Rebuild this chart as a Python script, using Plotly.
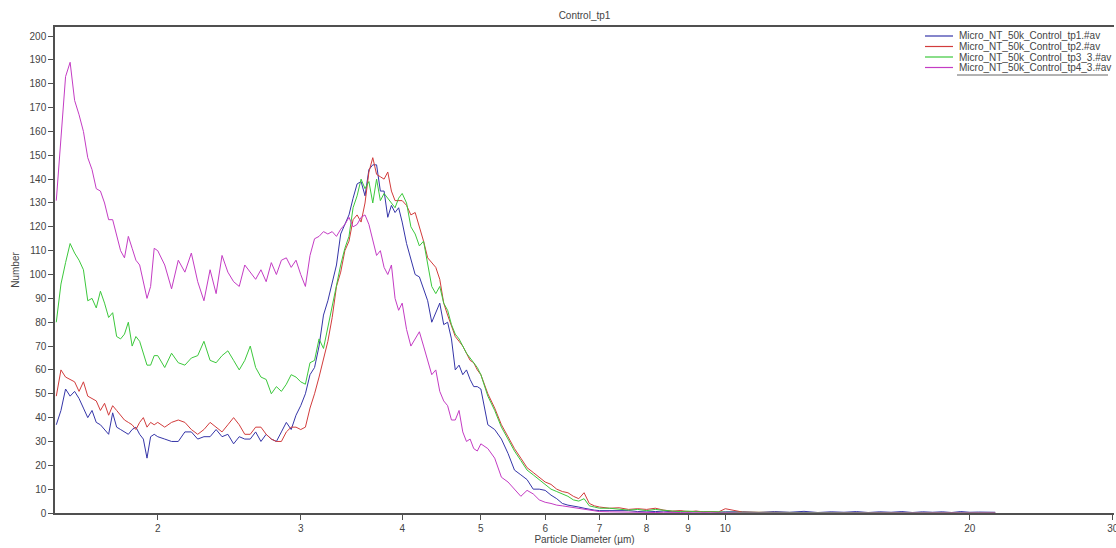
import plotly.graph_objects as go

# Particle diameter bins (µm)
diameter_um = [
    1.50, 1.52, 1.54, 1.56, 1.58, 1.60, 1.62, 1.64, 1.66, 1.68, 1.70, 1.72, 1.74,
    1.76, 1.78, 1.80, 1.82, 1.84, 1.86, 1.88, 1.90, 1.92, 1.94, 1.96, 1.98, 2.00,
    2.04, 2.08, 2.12, 2.16, 2.20, 2.24, 2.28, 2.32, 2.36, 2.40, 2.44, 2.48, 2.52,
    2.56, 2.60, 2.64, 2.68, 2.72, 2.76, 2.80, 2.84, 2.88, 2.92, 2.96, 3.00,
    3.04, 3.08, 3.12, 3.16, 3.20, 3.24, 3.28, 3.32, 3.36, 3.40, 3.44, 3.48, 3.52,
    3.56, 3.60, 3.64, 3.68, 3.72, 3.76, 3.80, 3.84, 3.88, 3.92, 3.96, 4.00,
    4.05, 4.10, 4.15, 4.20, 4.25, 4.30, 4.35, 4.40, 4.45, 4.50, 4.55, 4.60, 4.65,
    4.70, 4.75, 4.80, 4.85, 4.90, 4.95, 5.00,
    5.1, 5.2, 5.3, 5.4, 5.5, 5.6, 5.7, 5.8, 5.9, 6.0,
    6.1, 6.2, 6.3, 6.4, 6.5, 6.6, 6.7, 6.8, 6.9, 7.0, 7.2, 7.4, 7.6, 7.8, 8.0,
    8.2, 8.4, 8.6, 8.8, 9.0, 9.2, 9.4, 9.6, 9.8, 10.0,
    10.5, 11.0, 11.5, 12.0, 12.5, 13.0, 13.5, 14.0, 14.5, 15.0, 15.5, 16.0,
    16.5, 17.0, 17.5, 18.0, 18.5, 19.0, 19.5, 20.0, 20.5, 21.0, 21.5,
]

tp1_counts = [
    37, 43, 52, 49, 51, 48, 44, 40, 43, 38, 37, 35, 33, 42, 36, 35, 34, 33, 35, 36, 33, 31, 23, 32, 33, 32,
    31, 30, 30, 34, 34, 31, 32, 32, 35, 32, 33, 29, 32, 31, 31, 34, 30, 33, 31, 30, 34, 38, 35, 41, 45,
    50, 58, 61, 70, 83, 89, 96, 104, 117, 121, 125, 132, 138, 139, 133, 144, 146, 146, 135, 135, 124, 129, 126, 128, 122,
    113, 106, 100, 99, 94, 89, 80, 84, 88, 79, 80, 73, 60, 62, 58, 60, 56, 53, 53, 52,
    37, 35, 31, 25, 18, 16, 14, 10, 10, 9.5,
    7.5, 6, 4, 3.3, 3, 2.5, 2, 1.5, 1.2, 1, 1, 0.8, 1, 0.6, 0.8,
    0.6, 0.8, 0.5, 0.8, 0.4, 0.7, 0.5, 0.6, 0.3, 0.5,
    0.5, 0.2, 0.6, 0.3, 0.7, 0.2, 0.5, 0.3, 0.6, 0.2, 0.5, 0.3, 0.6, 0.2, 0.5, 0.3, 0.5, 0.2, 0.6, 0.3, 0.4, 0.5, 0.3,
]

tp2_counts = [
    49, 60, 57, 56, 55, 51, 55, 49, 48, 47, 43, 46, 41, 45, 43, 41, 39, 38, 37, 35, 38, 40, 36, 38, 37, 38,
    36, 38, 39, 38, 35, 33, 35, 38, 36, 34, 37, 40, 37, 33, 33, 36, 36, 33, 31, 30, 30, 34, 36, 36, 35,
    36, 44, 50, 57, 65, 72, 82, 95, 101, 110, 114, 123, 125, 122, 130, 143, 149, 142, 141, 140, 143, 135, 131, 131, 131,
    129, 125, 126, 120, 114, 107, 105, 103, 98, 88, 83, 78, 74, 72, 70, 67, 64, 63, 60, 58,
    50, 44, 37, 32, 27, 23, 19, 17, 15, 13,
    12, 10, 9, 8.5, 7, 6, 8.5, 4, 3, 2.5, 2, 2.2, 1.5, 1.8, 1.5,
    2, 1.2, 0.8, 1, 0.6, 0.8, 0.5, 0.6, 0.4, 1.8,
    0.4, 0.3, 0.2, 0.3, 0.1, 0.2, 0.1, 0.2, 0, 0.1, 0.2, 0, 0.1, 0, 0.1, 0, 0, 0.1, 0, 0, 0.1, 0, 0,
]

tp3_counts = [
    80, 96, 105, 113, 109, 106, 102, 89, 90, 86, 93, 88, 82, 84, 74, 73, 75, 80, 70, 74, 72, 67, 62, 62, 66, 66,
    61, 67, 63, 62, 65, 66, 72, 64, 63, 66, 68, 64, 60, 64, 70, 61, 57, 56, 50, 53, 51, 54, 58, 57, 55,
    54, 63, 64, 73, 69, 78, 86, 95, 104, 111, 116, 128, 133, 140, 136, 139, 130, 140, 131, 134, 132, 130, 128, 132, 134,
    130, 120, 117, 112, 114, 104, 95, 92, 95, 88, 85, 79, 75, 73, 70, 67, 65, 63, 61, 58,
    49, 43, 36, 31, 26, 22, 18, 16, 14, 12,
    10, 9, 8, 7, 5.5, 5, 6, 3, 2.5, 2, 2, 1.5, 1.2, 1.5, 1,
    1.5, 1, 0.8, 0.6, 0.8, 0.5, 0.6, 0.4, 0.5, 0.3,
    0.3, 0.1, 0.2, 0.1, 0.2, 0, 0.1, 0, 0.1, 0, 0, 0, 0, 0, 0, 0, 0, 0, 0, 0, 0, 0, 0,
]

tp4_counts = [
    131, 158, 183, 189, 173, 167, 160, 149, 144, 136, 135, 130, 123, 123, 117, 110, 107, 116, 111, 106, 104, 97, 90, 95, 111, 110,
    104, 94, 106, 101, 109, 97, 89, 102, 92, 108, 101, 97, 95, 104, 101, 98, 102, 97, 105, 100, 106, 107, 103, 106, 100,
    95, 108, 115, 116, 118, 117, 118, 116, 119, 121, 124, 120, 121, 124, 125, 121, 115, 108, 110, 103, 100, 104, 90, 85, 88,
    77, 70, 73, 76, 70, 64, 58, 60, 51, 47, 45, 39, 39, 43, 34, 30, 31, 27, 26, 29,
    27, 23, 15, 13, 10, 7, 9.5, 8, 5.5, 4.5,
    4, 3.3, 3, 2.6, 2.2, 1.8, 1.4, 1.2, 0.8, 0.6, 0.5, 0.4, 0.3, 0.3, 0.2,
    0.2, 0.3, 0.1, 0.2, 0.1, 0.2, 0.1, 0.1, 0, 0.1,
    0, 0, 0, 0, 0, 0, 0, 0, 0, 0, 0, 0, 0, 0, 0, 0, 0, 0, 0, 0, 0, 0, 0,
]

series_names = [
    "Micro_NT_50k_Control_tp1.#av",
    "Micro_NT_50k_Control_tp2.#av",
    "Micro_NT_50k_Control_tp3_3.#av",
    "Micro_NT_50k_Control_tp4_3.#av",
]
series_values = [tp1_counts, tp2_counts, tp3_counts, tp4_counts]
series_colors = ["#3535a8", "#d23c3c", "#3cc83c", "#c43cc4"]

x_tick_values = [2, 3, 4, 5, 6, 7, 8, 9, 10, 20, 30]
x_tick_labels = ["2", "3", "4", "5", "6", "7", "8", "9", "10", "20", "30"]

FONT = "Liberation Sans, Arial, sans-serif"
AXIS_COLOR = "#505050"
TEXT_COLOR = "#444444"

fig = go.Figure()
for name, vals, color in zip(series_names, series_values, series_colors):
    fig.add_trace(go.Scatter(
        x=diameter_um, y=vals, mode="lines", name=name,
        line=dict(color=color, width=1), showlegend=False,
    ))

W, H = 1116, 548
L, R, T, B = 55, 2, 27, 35

fig.update_layout(
    width=W, height=H,
    margin=dict(l=L, r=R, t=T, b=B, autoexpand=False),
    paper_bgcolor="white", plot_bgcolor="white",
    font=dict(family=FONT, size=10, color=TEXT_COLOR),
    title=dict(text="Control_tp1", x=0.5, xref="paper", xanchor="center",
               y=1 - 15 / H, yref="container", yanchor="middle",
               font=dict(size=10, color=TEXT_COLOR)),
    xaxis=dict(
        type="log", range=[0.1745, 1.4787],
        tickmode="array", tickvals=x_tick_values, ticktext=x_tick_labels,
        ticks="outside", ticklen=5, tickwidth=1, tickcolor=AXIS_COLOR,
        showline=True, linecolor=AXIS_COLOR, linewidth=1.5, mirror=True,
        showgrid=False, zeroline=False, automargin=False,
        ticklabeloverflow="allow",
        tickfont=dict(size=10, color=TEXT_COLOR),
        title=dict(text="Particle Diameter (µm)", font=dict(size=10, color=TEXT_COLOR), standoff=2),
    ),
    yaxis=dict(
        range=[0, 203.8], tick0=0, dtick=10,
        ticks="outside", ticklen=5, tickwidth=1, tickcolor=AXIS_COLOR,
        showline=True, linecolor=AXIS_COLOR, linewidth=1.5,
        showgrid=False, zeroline=False, automargin=False,
        tickfont=dict(size=10, color=TEXT_COLOR),
        title=dict(text="Number", font=dict(size=10, color=TEXT_COLOR), standoff=8),
    ),
)

# Compact legend drawn in the top-right corner of the plot area
plot_w = W - L - R
plot_h = H - T - B
def px_x(x):
    return (x - L) / plot_w
def px_y(y):
    return (H - B - y) / plot_h

row_y = [36, 46.5, 57, 67.5]
for name, color, yy in zip(series_names, series_colors, row_y):
    fig.add_shape(type="line", xref="paper", yref="paper",
                  x0=px_x(925), x1=px_x(953), y0=px_y(yy), y1=px_y(yy),
                  line=dict(color=color, width=1.2))
    fig.add_annotation(text=name, xref="paper", yref="paper",
                       x=px_x(957), y=px_y(yy), xanchor="left", yanchor="middle",
                       showarrow=False, font=dict(size=10, color=TEXT_COLOR, family=FONT))
fig.add_shape(type="line", xref="paper", yref="paper",
              x0=px_x(957), x1=px_x(1108), y0=px_y(75), y1=px_y(75),
              line=dict(color="#666666", width=1))

fig.write_html(
    "out.html",
    config={"displayModeBar": False},
    post_script="document.body.style.margin='0px';document.body.style.overflow='hidden';",
)
